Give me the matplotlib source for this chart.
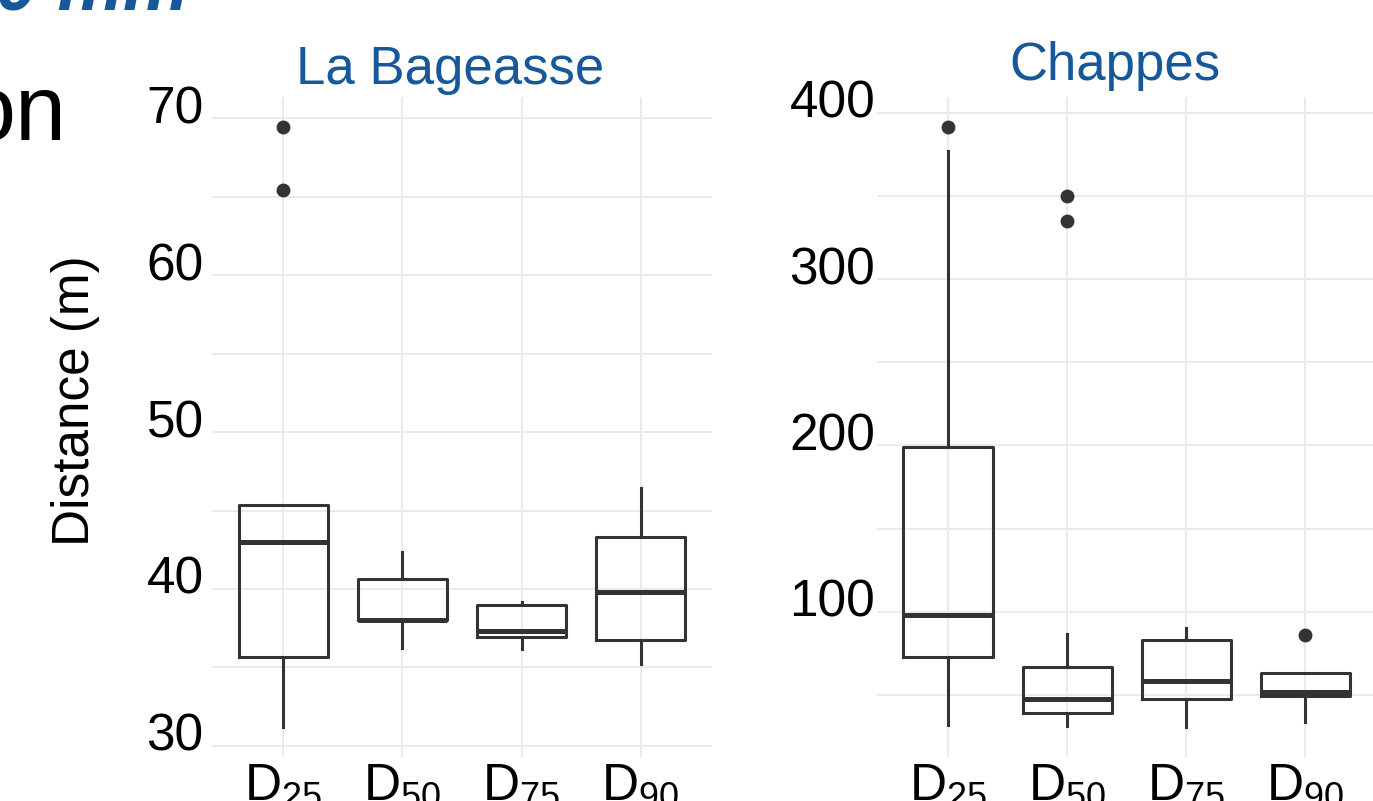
import matplotlib.pyplot as plt
import matplotlib.transforms as mtransforms

plt.rcParams['font.family'] = ['Liberation Sans', 'DejaVu Sans']
plt.rcParams['mathtext.fontset'] = 'custom'
plt.rcParams['mathtext.rm'] = 'Liberation Sans'
plt.rcParams['mathtext.it'] = 'Liberation Sans:italic'

categories = ['25', '50', '75', '90']

# La Bageasse (m)
bag_q1 = [35.66, 37.99, 36.91, 36.74]
bag_med = [43.0, 38.05, 37.35, 39.8]
bag_q3 = [45.37, 40.66, 38.99, 43.33]
bag_lo = [31.2, 36.25, 36.17, 35.19]
bag_hi = [45.37, 42.38, 39.2, 46.41]
bag_out = [[65.45, 69.48], [], [], []]
bag_major = [30, 40, 50, 60, 70]
bag_minor = [35, 45, 55, 65]

# Chappes (m)
cha_q1 = [73.0, 39.2, 47.8, 49.6]
cha_med = [98.2, 47.6, 58.6, 52.0]
cha_q3 = [199.0, 66.6, 83.2, 63.2]
cha_lo = [31.8, 31.2, 30.8, 33.8]
cha_hi = [377.0, 86.6, 90.6, 63.2]
cha_out = [[391.7], [335.2, 350.2], [], [86.2]]
cha_major = [100, 200, 300, 400]
cha_minor = [50, 150, 250, 350]

BLUE = '#17589a'
DARK = '#333333'
GRID = '#ebebeb'


def draw_panel(ax, title, q1, med, q3, lo, hi, out, major, minor,
               title_pad, label_pad):
    stats = []
    for i in range(len(categories)):
        stats.append({'q1': q1[i], 'med': med[i], 'q3': q3[i],
                      'whislo': lo[i], 'whishi': hi[i], 'fliers': out[i]})
    pos = list(range(1, len(categories) + 1))
    ax.bxp(stats, positions=pos, widths=0.75, showcaps=False,
           boxprops=dict(color=DARK, linewidth=2.2),
           whiskerprops=dict(color=DARK, linewidth=2.2),
           medianprops=dict(color=DARK, linewidth=3.6),
           flierprops=dict(marker='o', markerfacecolor=DARK,
                           markeredgecolor='none', markersize=10))

    vals = lo + hi + sum(out, [])
    ymin, ymax = min(vals), max(vals)
    span = ymax - ymin
    ax.set_ylim(ymin - 0.05 * span, ymax + 0.05 * span)
    ax.set_xlim(0.4, len(categories) + 0.6)

    ax.set_yticks(major)
    ax.set_yticks(minor, minor=True)
    ax.set_xticks(pos)
    ax.set_xticklabels([r'$\mathrm{D}_{%s}$' % c for c in categories])
    ax.grid(which='both', color=GRID, linewidth=1.4)
    ax.set_axisbelow(True)
    for s in ax.spines.values():
        s.set_visible(False)
    ax.tick_params(axis='both', which='both', length=0, labelsize=37)
    ax.tick_params(axis='x', pad=3)
    ax.tick_params(axis='y', pad=label_pad)
    shift = mtransforms.ScaledTranslation(0, -0.05, ax.figure.dpi_scale_trans)
    for lab in ax.get_yticklabels():
        lab.set_va('baseline')
        lab.set_transform(lab.get_transform() + shift)
    ax.set_title(title, color=BLUE, fontsize=38, pad=title_pad,
                 x=0.5 - 12 / 500)


fig = plt.figure(figsize=(13.73, 8.01), dpi=100)
ax_l = fig.add_axes([0.1544, 0.0549, 0.3642, 0.8246])
ax_r = fig.add_axes([0.6385, 0.0549, 0.3642, 0.8246])

draw_panel(ax_l, 'La Bageasse', bag_q1, bag_med, bag_q3, bag_lo, bag_hi,
           bag_out, bag_major, bag_minor, 9, 6)
draw_panel(ax_r, 'Chappes', cha_q1, cha_med, cha_q3, cha_lo, cha_hi,
           cha_out, cha_major, cha_minor, 12, 1)

fig.text(76 / 1373, 0.5, 'Distance (m)', rotation=90, ha='center',
         va='center', fontsize=37)

# slide text around the chart, cut by the crop
fig.text(-36 / 1373, 1 - 140 / 801, 'on', ha='left', va='baseline',
         fontsize=66)
fig.text(-4 / 1373, 1 - 9 / 801, '0 mm', ha='left', va='baseline',
         fontsize=53, color=BLUE, fontweight='bold', fontstyle='italic')

fig.savefig('out.png', dpi=100)
